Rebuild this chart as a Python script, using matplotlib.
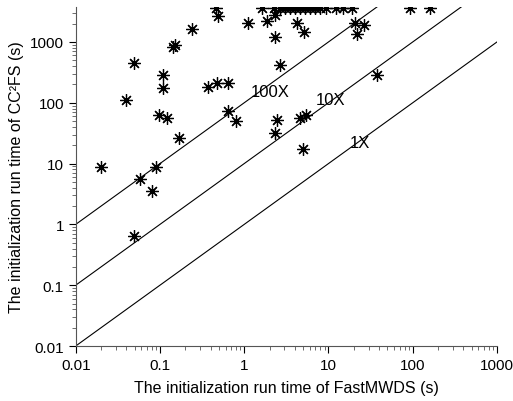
import numpy as np
import matplotlib.pyplot as plt
from matplotlib.ticker import FixedLocator, LogLocator, NullFormatter, FixedFormatter

plt.rcParams['font.family'] = ['Liberation Sans', 'DejaVu Sans']

# init time of FastMWDS (x) vs CC2FS (y), seconds
fastmwds = [0.02, 0.0395, 0.049, 0.058, 0.081, 0.09, 0.0975, 0.121, 0.109, 0.109,
            0.143, 0.151, 0.169, 0.24, 0.372, 0.463, 0.49, 0.477, 0.645, 0.645,
            0.80, 0.049, 2.33, 2.46, 2.67, 4.61, 5.44, 5.0, 37.9,
            1.11, 1.87, 2.33, 4.25, 5.15, 2.33, 20.8, 26.5, 21.9,
            1.63, 2.27, 2.67, 3.06, 3.51, 4.02, 4.61, 5.28, 6.06, 6.95,
            7.97, 9.4, 12.4, 15.0, 19.1, 91.6, 161]
cc2fs = [8.9, 112, 453, 5.5, 3.6, 8.9, 63.5, 56.8, 288, 176,
         828, 893, 26.7, 1630, 183, 3600, 2670, 213, 213, 74,
         50.7, 0.636, 32.2, 52.6, 420, 56.8, 63.5, 17.6, 288,
         2050, 2210, 2770, 2050, 1460, 1210, 2050, 1900, 1350,
         3600, 3600, 3600, 3600, 3600, 3600, 3600, 3600, 3600, 3600,
         3600, 3600, 3600, 3600, 3600, 3600, 3600]

ratios = [1, 10, 100]
ratio_labels = ['1X', '10X', '100X']
label_x = [23.8, 10.5, 2.03]
label_y = [22.6, 115, 156]

xlim = (0.01, 1000)
ylim = (0.01, 3750)

fig = plt.figure(figsize=(5.13, 4.02), dpi=100)
ax = fig.add_axes([0.1476, 0.1368, 0.8212, 0.8432])

for r, lab, tx, ty in zip(ratios, ratio_labels, label_x, label_y):
    xx = np.array(xlim)
    ax.plot(xx, r * xx, color='black', lw=0.8)
    ax.text(tx, ty, lab, fontsize=12, ha='center', va='center')

ax.plot(fastmwds, cc2fs, linestyle='none', marker=(8, 2, 0), markersize=9,
        markeredgewidth=0.9, color='black')

ax.set_xscale('log')
ax.set_yscale('log')
ax.set_xlim(xlim)
ax.set_ylim(ylim)

xt = [0.01, 0.1, 1, 10, 100, 1000]
yt = [0.01, 0.1, 1, 10, 100, 1000]
ax.xaxis.set_major_locator(FixedLocator(xt))
ax.xaxis.set_major_formatter(FixedFormatter(['0.01', '0.1', '1', '10', '100', '1000']))
ax.yaxis.set_major_locator(FixedLocator(yt))
ax.yaxis.set_major_formatter(FixedFormatter(['0.01', '0.1', '1', '10', '100', '1000']))
for a in (ax.xaxis, ax.yaxis):
    a.set_minor_locator(LogLocator(base=10, subs=np.arange(2, 10), numticks=20))
    a.set_minor_formatter(NullFormatter())

ax.tick_params(which='major', direction='out', length=5, width=0.8, labelsize=11, colors='black')
ax.tick_params(which='minor', direction='out', length=3, width=0.6, colors='#555555')
ax.spines['top'].set_visible(False)
ax.spines['right'].set_visible(False)
ax.spines['left'].set_color('#555555')
ax.spines['bottom'].set_color('#555555')

ax.set_xlabel('The initialization run time of FastMWDS (s)', fontsize=11.5, labelpad=6)
ax.set_ylabel('The initialization run time of CC²FS (s)', fontsize=11.5, labelpad=4)

fig.savefig('out.png', dpi=100)
